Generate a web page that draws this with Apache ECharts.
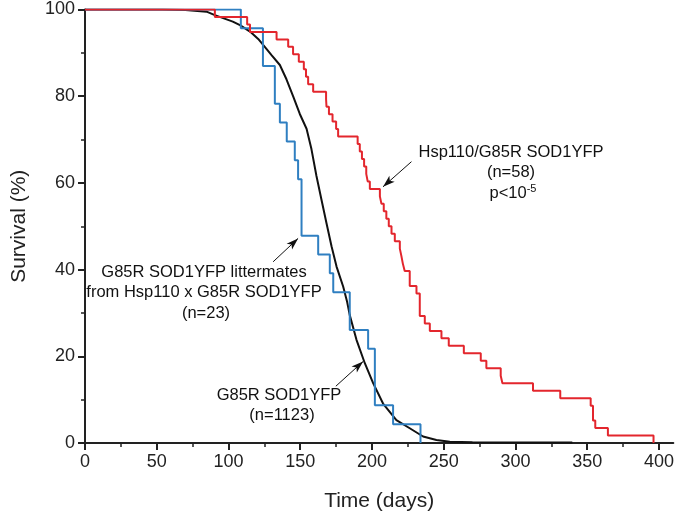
<!DOCTYPE html>
<html>
<head>
<meta charset="utf-8">
<script src="https://cdn.jsdelivr.net/npm/echarts@6/dist/echarts.min.js"></script>
<style>
html,body{margin:0;padding:0;background:#fff;}
#c{width:677px;height:519px;}
</style>
</head>
<body>
<div id="c"></div>
<script>
// Hsp110/G85R SOD1YFP (n=58)
var redTimes = [0, 90.5, 113, 115, 133.5, 141.6, 145, 149, 152.5, 154, 155.5, 159, 168, 168.3, 170, 172.5, 175, 176.4, 190, 191.5, 193, 194.5, 196, 197, 198.5, 205.5, 206.6, 208.2, 210, 211.7, 213.6, 215.9, 219.4, 220.5, 221.5, 222.8, 226.3, 231, 233.3, 236.8, 240.3, 248.4, 253.5, 264, 275.8, 279.7, 289.7, 290.9, 312.2, 331.2, 352.4, 354, 355.6, 364.4, 396.2];
var redSurv = [100, 98.28, 96.55, 94.83, 93.10, 91.38, 89.66, 87.93, 86.21, 84.48, 82.76, 81.03, 79.31, 77.59, 75.86, 74.14, 72.41, 70.69, 68.97, 67.24, 65.52, 63.79, 62.07, 60.34, 58.62, 56.90, 55.17, 53.45, 51.72, 50.00, 48.28, 46.55, 44.83, 43.10, 41.38, 39.66, 36.21, 34.48, 29.31, 27.59, 25.86, 24.14, 22.41, 20.69, 18.97, 17.24, 15.52, 13.79, 12.07, 10.34, 8.62, 5.17, 3.45, 1.72, 0];

// G85R SOD1YFP littermates (n=23)
var blueTimes = [0, 108.6, 124, 132.3, 135.8, 140.6, 146.2, 148.5, 150.9, 162.5, 170.6, 173, 184.5, 197.3, 202, 214.7, 233.8];
var blueSurv = [100, 95.65, 86.96, 78.26, 73.91, 69.57, 65.22, 60.87, 47.83, 43.48, 39.13, 34.78, 26.09, 21.74, 8.70, 4.35, 0];

// G85R SOD1YFP (n=1123)
var blackTimes = [0, 54, 70, 84.7, 90.5, 103, 108, 115, 120.7, 125.3, 130, 135.8, 140.4, 145, 149.7, 154.4, 157.8, 161.3, 164.8, 168.3, 171.8, 175.3, 179.9, 182.7, 184.5, 189.2, 195, 200.8, 207.7, 217, 226.3, 235.6, 244.9, 254.2, 270, 300, 339.6];
var blackSurv = [100, 100, 99.9, 99.5, 98.7, 97.2, 96.4, 94.9, 93.2, 91.4, 89.5, 87.2, 83.9, 80.0, 75.9, 72.5, 67.8, 61.6, 56.1, 50.7, 45.4, 40.7, 36.1, 32.5, 29.5, 23.8, 18.4, 13.8, 9.1, 5.3, 3.4, 1.5, 0.7, 0.3, 0.2, 0.1, 0.1];

var xMajorTicks = [0, 50, 100, 150, 200, 250, 300, 350, 400];
var xMinorTicks = [25, 75, 125, 175, 225, 275, 325, 375];

// annotation arrows [fromDay, fromSurv, toDay, toSurv]
var arrowHsp = [227.5, 64.9, 207.7, 59.1];
var arrowLitter = [131.1, 41.8, 148.5, 47.2];
var arrowG85R = [174.8, 13.1, 193.8, 18.8];

function zip(a, b) { return a.map(function (v, i) { return [v, b[i]]; }); }

var FONT = '"Liberation Sans", Arial, Helvetica, sans-serif';
var AX = '#222';

var chart = echarts.init(document.getElementById('c'), null, {renderer: 'canvas'});

function arrowLine(a) {
  return [{coord: [a[0], a[1]]}, {coord: [a[2], a[3]]}];
}

var option = {
  animation: false,
  backgroundColor: '#fff',
  grid: {left: 85, right: 3, top: 9.5, bottom: 76, containLabel: false},
  xAxis: [{
    type: 'value', min: 0, max: 410, interval: 25,
    name: 'Time (days)', nameLocation: 'middle', nameGap: 48,
    nameTextStyle: {fontFamily: FONT, fontSize: 21, color: AX},
    axisLine: {show: true, onZero: false, lineStyle: {color: AX, width: 2}},
    axisTick: {show: true, length: 7, customValues: xMajorTicks, lineStyle: {color: AX, width: 2}},
    axisLabel: {customValues: xMajorTicks, fontFamily: FONT, fontSize: 18, color: AX, margin: 10},
    splitLine: {show: false}
  }, {
    type: 'value', min: 0, max: 410, position: 'bottom',
    axisLine: {show: false},
    axisTick: {show: true, length: 4, customValues: xMinorTicks, lineStyle: {color: AX, width: 1.5}},
    axisLabel: {show: false},
    splitLine: {show: false}
  }],
  yAxis: {
    type: 'value', min: 0, max: 100, interval: 20,
    name: 'Survival (%)', nameLocation: 'middle', nameGap: 55,
    nameTextStyle: {fontFamily: FONT, fontSize: 21, color: AX},
    axisLine: {show: true, onZero: false, lineStyle: {color: AX, width: 2}},
    axisTick: {show: true, length: 7, lineStyle: {color: AX, width: 2}},
    minorTick: {show: true, splitNumber: 2, length: 4, lineStyle: {color: AX, width: 1.5}},
    axisLabel: {fontFamily: FONT, fontSize: 18, color: AX, margin: 10},
    splitLine: {show: false},
    minorSplitLine: {show: false}
  },
  series: [{
    name: 'G85R SOD1YFP', type: 'line', data: zip(blackTimes, blackSurv),
    showSymbol: false, smooth: false, z: 2,
    lineStyle: {color: '#111', width: 2},
    markLine: {
      silent: true, symbol: ['none', 'arrow'], symbolSize: [6, 12],
      label: {show: false},
      lineStyle: {color: '#111', width: 1, type: 'solid'},
      data: [arrowLine(arrowHsp), arrowLine(arrowLitter), arrowLine(arrowG85R)]
    }
  }, {
    name: 'G85R SOD1YFP littermates', type: 'line', data: zip(blueTimes, blueSurv),
    step: 'end', showSymbol: false, z: 3,
    lineStyle: {color: '#2f7fc1', width: 2}
  }, {
    name: 'Hsp110/G85R SOD1YFP', type: 'line', data: zip(redTimes, redSurv),
    step: 'end', showSymbol: false, z: 4,
    lineStyle: {color: '#e3262d', width: 2}
  }],
  graphic: [
    {type: 'text', x: 511, y: 152, style: {text: 'Hsp110/G85R SOD1YFP', font: '16.5px ' + FONT, fill: '#111', align: 'center', verticalAlign: 'middle'}},
    {type: 'text', x: 511, y: 172.5, style: {text: '(n=58)', font: '16.5px ' + FONT, fill: '#111', align: 'center', verticalAlign: 'middle'}},
    {type: 'text', x: 513, y: 193, style: {
      text: 'p<10{sup|-5}', font: '16.5px ' + FONT, fill: '#111', align: 'center', verticalAlign: 'middle',
      rich: {sup: {fontSize: 11, fontFamily: FONT, fill: '#111', padding: [0, 0, 9, 0]}}
    }},
    {type: 'text', x: 204, y: 272, style: {text: 'G85R SOD1YFP littermates', font: '16.5px ' + FONT, fill: '#111', align: 'center', verticalAlign: 'middle'}},
    {type: 'text', x: 204, y: 292.5, style: {text: 'from Hsp110 x G85R SOD1YFP', font: '16.5px ' + FONT, fill: '#111', align: 'center', verticalAlign: 'middle'}},
    {type: 'text', x: 206, y: 313, style: {text: '(n=23)', font: '16.5px ' + FONT, fill: '#111', align: 'center', verticalAlign: 'middle'}},
    {type: 'text', x: 279, y: 395, style: {text: 'G85R SOD1YFP', font: '16.5px ' + FONT, fill: '#111', align: 'center', verticalAlign: 'middle'}},
    {type: 'text', x: 282, y: 415.5, style: {text: '(n=1123)', font: '16.5px ' + FONT, fill: '#111', align: 'center', verticalAlign: 'middle'}}
  ]
};
chart.setOption(option);
</script>
</body>
</html>
